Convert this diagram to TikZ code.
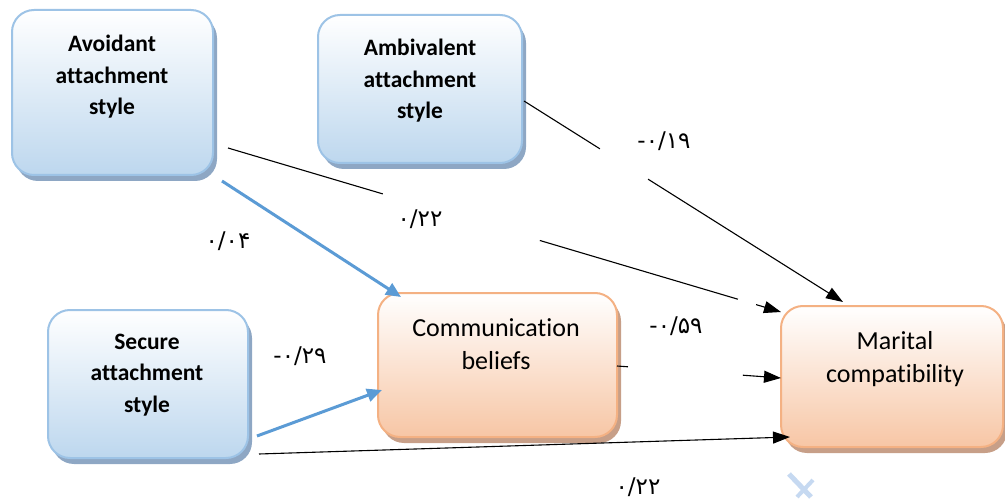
\documentclass[tikz,border=0pt]{standalone}
\usepackage{fontspec}
\setmainfont{Carlito}[Ligatures=NoCommon]
\newfontfamily\fa{DejaVu Sans}
\usetikzlibrary{arrows.meta,calc}
\definecolor{bluebot}{HTML}{BDD7EE}
\definecolor{blueline}{HTML}{9DC3E6}
\definecolor{blueshadow}{HTML}{8EA7C4}
\definecolor{orbot}{HTML}{F7C6A5}
\definecolor{orline}{HTML}{F4B183}
\definecolor{orshadow}{HTML}{C79F88}
\definecolor{arrowblue}{HTML}{5B9BD5}
\definecolor{ghostblue}{HTML}{C6D9F1}
\begin{document}
\begin{tikzpicture}[x=1pt,y=-1pt,
  boxbase/.style={rectangle, rounded corners=22pt, inner sep=0pt, line width=2pt},
  bluebox/.style={boxbase, draw=blueline, top color=white, bottom color=bluebot},
  orbox/.style={boxbase, draw=orline, top color=white, bottom color=orbot},
  blueshad/.style={boxbase, fill=blueshadow, draw=none},
  orshad/.style={boxbase, fill=orshadow, draw=none},
  btext/.style={align=center, inner sep=0pt, font=\bfseries\fontsize{23.5}{31.5}\selectfont},
  otext/.style={align=center, inner sep=0pt, font=\fontsize{26}{33}\selectfont},
  coef/.style={inner sep=0pt, font=\fa\fontsize{23}{26}\selectfont},
  thinarrow/.style={line width=1.1pt, -{Triangle[length=17pt,width=12pt]}},
  thinline/.style={line width=1.1pt},
  bluearrow/.style={line width=3pt, arrowblue, -{Triangle[length=15pt,width=13pt]}}
]
\useasboundingbox (0,0) rectangle (1005,500);

% shadows
\node[blueshad, minimum width=201pt, minimum height=165pt] at (116.5,98.5) {};
\node[blueshad, minimum width=204pt, minimum height=148pt] at (424,95) {};
\node[blueshad, minimum width=200pt, minimum height=148pt] at (152,390) {};
\node[orshad, minimum width=239pt, minimum height=144pt] at (501.5,371) {};
\node[orshad, minimum width=222pt, minimum height=141pt] at (896,382.5) {};

% boxes
\node[bluebox, minimum width=201pt, minimum height=165pt] (avo) at (112.5,92.5) {};
\node[bluebox, minimum width=204pt, minimum height=148pt] (amb) at (420,89) {};
\node[bluebox, minimum width=200pt, minimum height=148pt] (sec) at (148,384) {};
\node[orbox, minimum width=239pt, minimum height=144pt] (com) at (497.5,365) {};
\node[orbox, minimum width=222pt, minimum height=141pt] (mar) at (892,376.5) {};

% texts
\node[btext] (avot) at (112,77) {Avoidant\\attachment\\style};
\node[btext] (ambt) at (420,81) {Ambivalent\\attachment\\style};
\node[btext] (sect) at (147,375) {Secure\\attachment\\style};
\node[otext] (comt) at (496,344) {Communication\\beliefs};
\node[otext] (mart) at (895,359) {Marital\\compatibility};

% connector end points
\coordinate (s1) at (228,148);  \coordinate (e1) at (781,312);
\coordinate (s2) at (524,101);  \coordinate (e2) at (843,302);
\coordinate (s3) at (222,181);  \coordinate (e3) at (401,297);
\coordinate (s4) at (257,436);  \coordinate (e4) at (382,390);
\coordinate (s5) at (259,454);  \coordinate (e5) at (790,437);
\coordinate (s6) at (617,366);  \coordinate (e6) at (781,378);

% avoidant -> marital (broken)
\draw[thinline] (s1) -- ($(s1)!0.28!(e1)$);
\draw[thinline] ($(s1)!0.564!(e1)$) -- ($(s1)!0.922!(e1)$);
\draw[thinarrow] ($(s1)!0.955!(e1)$) -- (e1);
% ambivalent -> marital (broken)
\draw[thinline] (s2) -- ($(s2)!0.238!(e2)$);
\draw[thinarrow] ($(s2)!0.389!(e2)$) -- (e2);
% avoidant -> communication
\draw[bluearrow] (s3) -- (e3);
% secure -> communication
\draw[bluearrow] (s4) -- (e4);
% secure -> marital
\draw[thinarrow] (s5) -- (e5);
% communication -> marital (broken)
\draw[thinline] (s6) -- ($(s6)!0.067!(e6)$);
\draw[thinarrow] ($(s6)!0.767!(e6)$) -- (e6);

% coefficients
\node[coef] (c1) at (664,141) {-۰/۱۹};
\node[coef] (c2) at (420,219) {۰/۲۲};
\node[coef] (c3) at (228,241) {۰/۰۴};
\node[coef] (c4) at (300,356) {-۰/۲۹};
\node[coef] (c5) at (676,326) {-۰/۵۹};
\node[coef] (c6) at (638,487) {۰/۲۲};

% faint mark
\draw[ghostblue, line width=5pt] (789,474) -- (811,497);
\draw[ghostblue, line width=4pt] (813,480) -- (797,497);
\end{tikzpicture}
\end{document}
